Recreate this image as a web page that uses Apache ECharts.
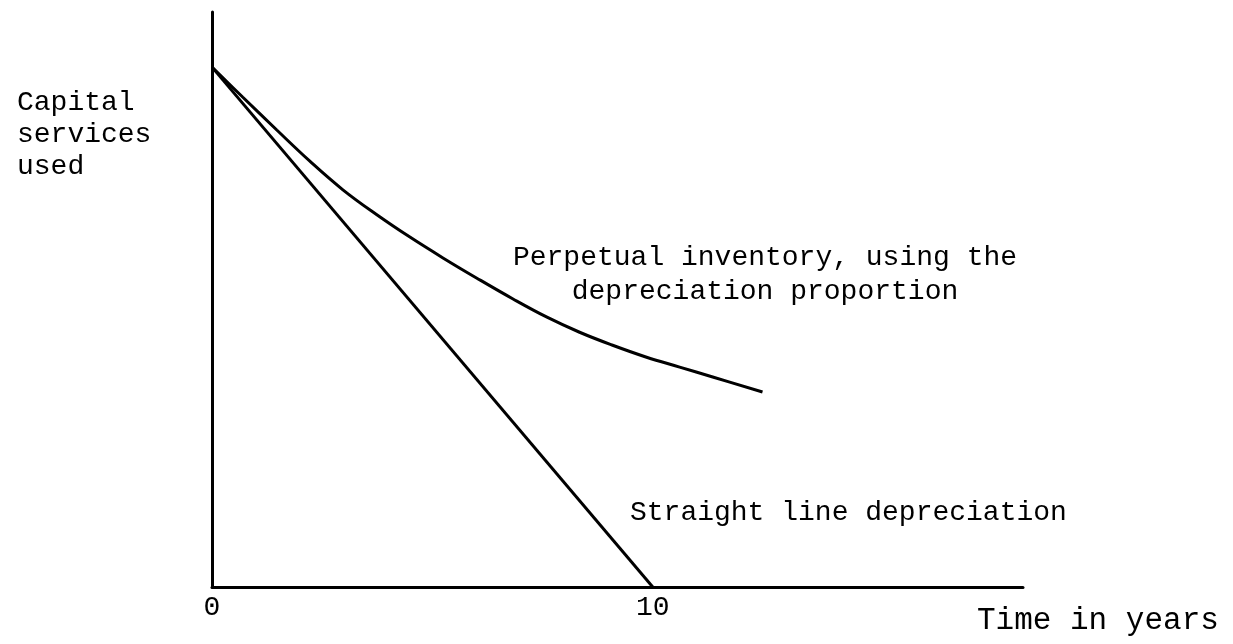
<!DOCTYPE html>
<html>
<head>
<meta charset="utf-8">
<script src="https://cdn.jsdelivr.net/npm/echarts@6/dist/echarts.min.js"></script>
<style>
html,body{margin:0;padding:0;background:#fff;}
#chart{width:1233px;height:644px;}
</style>
</head>
<body>
<div id="chart"></div>
<script>
// Time (years) and capital services used (index, start = 100)
var straightTime = [0, 10];
var straightValues = [100, 0];
var perpetualTime = [0, 0.70, 1.47, 2.22, 2.97, 3.74, 4.49, 5.24, 6.01, 6.83, 7.60, 8.34, 9.09, 9.86, 10.61, 11.36, 12.49];
var perpetualValues = [100, 94.2, 87.9, 81.9, 76.4, 71.6, 67.3, 63.3, 59.4, 55.4, 51.9, 49.0, 46.5, 44.2, 42.3, 40.4, 37.5];
var xTickLabels = ['0', '10'];

function pairs(xs, ys) {
  return xs.map(function (x, i) { return [x, ys[i]]; });
}

var FONT = '"Liberation Mono", "DejaVu Sans Mono", monospace';
var chart = echarts.init(document.getElementById('chart'));
chart.setOption({
  backgroundColor: '#fff',
  animation: false,
  grid: { left: 212, right: 210, top: 12, bottom: 57 },
  xAxis: {
    type: 'value', min: 0, max: 18.4, interval: 10,
    axisLine: { show: true, lineStyle: { color: '#000', width: 3 } },
    axisTick: { show: false },
    splitLine: { show: false },
    axisLabel: {
      show: true, showMaxLabel: false, margin: 7,
      color: '#000', fontSize: 28, fontFamily: FONT,
      formatter: function (v) {
        var i = [0, 10].indexOf(v);
        return i >= 0 ? xTickLabels[i] : '';
      }
    }
  },
  yAxis: {
    type: 'value', min: 0, max: 110.6,
    axisLine: { show: true, lineStyle: { color: '#000', width: 3 } },
    axisTick: { show: false },
    splitLine: { show: false },
    axisLabel: { show: false }
  },
  series: [
    {
      type: 'line', name: 'Straight line depreciation',
      data: pairs(straightTime, straightValues),
      showSymbol: false, symbol: 'none',
      lineStyle: { color: '#000', width: 3 }
    },
    {
      type: 'line', name: 'Perpetual inventory',
      data: pairs(perpetualTime, perpetualValues),
      smooth: 0.4, showSymbol: false, symbol: 'none',
      lineStyle: { color: '#000', width: 3 }
    }
  ],
  graphic: [
    { type: 'text', x: 17, y: 135, style: { text: 'Capital\nservices\nused', font: '28px ' + FONT, fill: '#000', align: 'left', verticalAlign: 'middle', lineHeight: 32 } },
    { type: 'text', x: 765, y: 275, style: { text: 'Perpetual inventory, using the\ndepreciation proportion', font: '28px ' + FONT, fill: '#000', align: 'center', verticalAlign: 'middle', lineHeight: 34 } },
    { type: 'text', x: 630, y: 513, style: { text: 'Straight line depreciation', font: '28px ' + FONT, fill: '#000', align: 'left', verticalAlign: 'middle' } },
    { type: 'text', x: 977, y: 621, style: { text: 'Time in years', font: '31px ' + FONT, fill: '#000', align: 'left', verticalAlign: 'middle' } }
  ]
});
</script>
</body>
</html>
